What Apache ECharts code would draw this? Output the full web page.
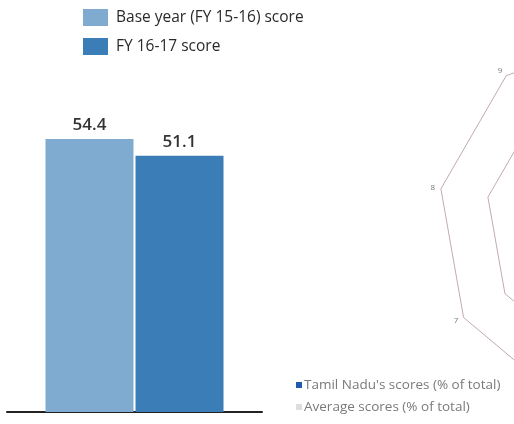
<!DOCTYPE html>
<html>
<head>
<meta charset="utf-8">
<script src="https://cdn.jsdelivr.net/npm/echarts@6/dist/echarts.min.js"></script>
<style>
  html, body { margin: 0; padding: 0; background: #fff; }
  #chart { width: 514px; height: 424px; }
</style>
</head>
<body>
<div id="chart"></div>
<script>
// bar part
const barCategories = ['Score'];
const baseYearScores = [54.4];
const fy1617Scores = [51.1];

// radar part (only its left edge is in the picture; indicators listed
// counter-clockwise from the top so they read 1..9 clockwise)
const radarAxes = ['1', '9', '8', '7', '6', '5', '4', '3', '2'];
const radarMax = 100;
// the data polygons lie outside the picture, values not readable
const tnScores = ['-', '-', '-', '-', '-', '-', '-', '-', '-'];
const avgScores = ['-', '-', '-', '-', '-', '-', '-', '-', '-'];

const font = '"Open Sans", "DejaVu Sans", sans-serif';

let chart = echarts.init(document.getElementById('chart'));

let option = {
  animation: false,
  backgroundColor: '#fff',
  textStyle: { fontFamily: font },
  legend: [
    {
      data: ['Base year (FY 15-16) score', 'FY 16-17 score'],
      orient: 'vertical',
      left: 78,
      top: 4,
      icon: 'rect',
      itemWidth: 25,
      itemHeight: 17,
      itemGap: 12,
      textStyle: { fontSize: 15.5, color: '#2a2a2a', fontFamily: font, padding: [0, 0, 0, 3] }
    },
    {
      data: ["Tamil Nadu's scores (% of total)", 'Average scores (% of total)'],
      orient: 'vertical',
      left: 291,
      top: 373,
      icon: 'rect',
      itemWidth: 6,
      itemHeight: 6,
      itemGap: 8,
      textStyle: { fontSize: 13.5, color: '#7a7a7a', fontFamily: font, padding: [0, 0, 0, -3] }
    }
  ],
  grid: { left: 7, right: 252, top: 111, bottom: 12 },
  xAxis: {
    type: 'category',
    data: barCategories,
    axisLine: { lineStyle: { color: '#222', width: 2 } },
    axisTick: { show: false },
    axisLabel: { show: false }
  },
  yAxis: {
    type: 'value',
    min: 0,
    max: 60,
    show: false,
    splitLine: { show: false }
  },
  radar: {
    center: [629, 222],
    radius: 191,
    startAngle: 90,
    splitNumber: 4,
    shape: 'polygon',
    indicator: radarAxes.map(n => ({ name: n, max: radarMax })),
    axisName: { color: '#777', fontSize: 8, fontFamily: font },
    nameGap: 6,
    axisLine: { show: false },
    axisTick: { show: false },
    axisLabel: { show: false },
    splitArea: { show: false },
    splitLine: { lineStyle: { color: '#c2acac', width: 1 } }
  },
  series: [
    {
      name: 'Base year (FY 15-16) score',
      type: 'bar',
      data: baseYearScores,
      barWidth: 88,
      barGap: '2.3%',
      itemStyle: { color: '#80abd0' },
      label: {
        show: true,
        position: 'top',
        distance: 5,
        fontSize: 17,
        fontWeight: 600,
        color: '#333',
        fontFamily: font
      }
    },
    {
      name: 'FY 16-17 score',
      type: 'bar',
      data: fy1617Scores,
      barWidth: 88,
      itemStyle: { color: '#3b7db6' },
      label: {
        show: true,
        position: 'top',
        distance: 5,
        fontSize: 17,
        fontWeight: 600,
        color: '#333',
        fontFamily: font
      }
    },
    {
      type: 'radar',
      symbol: 'none',
      data: [
        { name: "Tamil Nadu's scores (% of total)", value: tnScores,
          itemStyle: { color: '#1f5cae' }, lineStyle: { color: '#1f5cae' } },
        { name: 'Average scores (% of total)', value: avgScores,
          itemStyle: { color: '#dedede' }, lineStyle: { color: '#dedede' } }
      ]
    }
  ]
};

chart.setOption(option);
</script>
</body>
</html>
